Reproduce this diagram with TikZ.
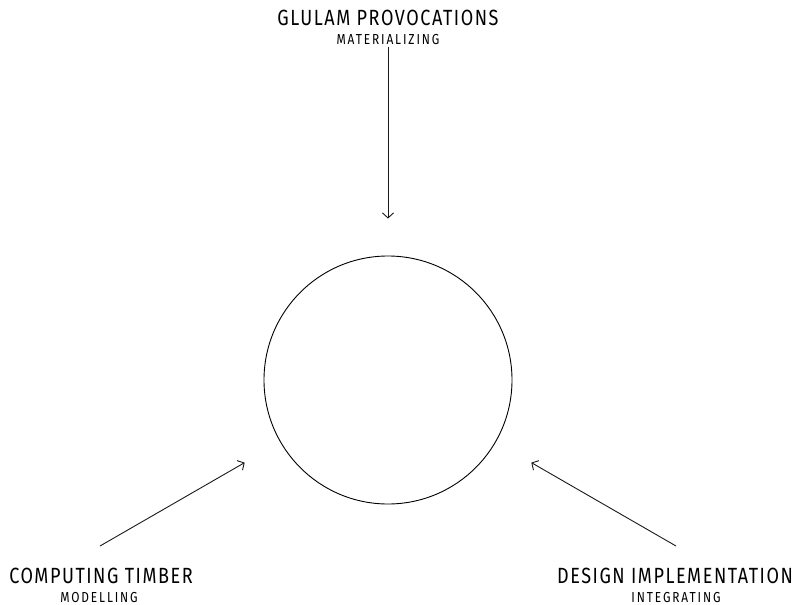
\documentclass[tikz,border=0pt]{standalone}
\usepackage{fontspec}
\usetikzlibrary{arrows.meta}
\newfontfamily\titlefont[FakeStretch=0.82, LetterSpace=7]{Fira Sans}
\newfontfamily\subtitlefont[FakeStretch=0.82, LetterSpace=13]{Fira Sans}
\begin{document}
\begin{tikzpicture}[x=1pt, y=-1pt,
    title/.style={font=\titlefont\fontsize{22}{26}\selectfont, text=black, inner sep=0pt},
    subtitle/.style={font=\subtitlefont\fontsize{14.5}{17}\selectfont, text=black, inner sep=0pt},
    link/.style={-{Straight Barb[length=5pt, width=11pt]}, black!90, line width=0.9pt, shorten >=#1},
    link/.default=40pt]
    \useasboundingbox (0,0) rectangle (801,605);
    \node[draw, circle, line width=0.9pt, minimum size=248pt, inner sep=0pt] (hub) at (388,380) {};
    \node[title] (glulam) at (388,18) {GLULAM PROVOCATIONS};
    \node[subtitle] (materializing) at (388,40) {MATERIALIZING};
    \node[title] (computing) at (101,575.5) {COMPUTING TIMBER};
    \node[subtitle] (modelling) at (99,597.5) {MODELLING};
    \node[title] (design) at (675,575.5) {DESIGN IMPLEMENTATION};
    \node[subtitle] (integrating) at (676,597.5) {INTEGRATING};
    \coordinate (glulam-in) at (388,47);
    \coordinate (computing-in) at (100,546);
    \coordinate (design-in) at (676,546);
    \draw[link=37pt] (glulam-in) -- (hub);
    \draw[link=41pt] (computing-in) -- (hub);
    \draw[link=41pt] (design-in) -- (hub);
\end{tikzpicture}
\end{document}
